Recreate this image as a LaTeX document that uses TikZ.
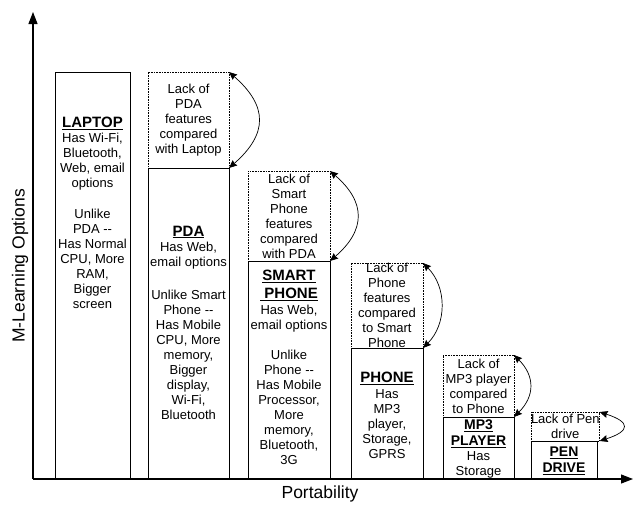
\documentclass[tikz,border=0pt]{standalone}
\usepackage{fontspec}
\setmainfont{Liberation Sans}
\usetikzlibrary{arrows.meta}
\newcommand\mybody{\fontsize{13}{15}\selectfont}
\newcommand\myhead{\fontsize{15}{18}\selectfont\bfseries}
\newcommand\myheads{\fontsize{14}{16}\selectfont\bfseries}
\newcommand\mylab{\fontsize{17.5}{20}\selectfont}
\begin{document}
\begin{tikzpicture}[x=1pt,y=-1pt,
  box/.style={draw, line width=0.9pt, anchor=north west, inner sep=0pt, outer sep=0pt},
  dbox/.style={draw, dash pattern=on 0.8pt off 0.8pt, line width=0.7pt, anchor=north west, inner sep=0pt, outer sep=0pt, align=center, font=\mybody},
  body/.style={anchor=north, inner sep=0pt, align=center, font=\mybody},
  head/.style={anchor=north, inner sep=0pt, align=center, font=\myhead},
  heads/.style={anchor=north, inner sep=0pt, align=center, font=\myheads},
  cmp/.style={{Stealth[length=8pt,width=7pt,inset=1pt]}-{Stealth[length=8pt,width=7pt,inset=1pt]}, line width=0.7pt},
  axis/.style={-{Triangle[length=12pt,width=9pt]}, line width=1.1pt},
]
\useasboundingbox (0,0) rectangle (634,504);

% dotted "lack of" boxes
\node[dbox, minimum width=81pt, minimum height=96pt] (pdaD) at (148,72) {Lack of\\PDA\\features\\compared\\with Laptop};
\node[dbox, minimum width=82pt, minimum height=90pt] (spD) at (248,171) {Lack of\\Smart\\Phone\\features\\compared\\with PDA};
\node[dbox, minimum width=72pt, minimum height=85pt] (phD) at (351,263) {Lack of\\Phone\\features\\compared\\to Smart\\Phone};
\node[dbox, minimum width=71pt, minimum height=62pt] (mpD) at (443,355) {Lack of\\MP3 player\\compared\\to Phone};
\node[dbox, minimum width=66pt, minimum height=29pt] (peD) at (531,412) {Lack of Pen\\drive};

% solid boxes
\node[box, minimum width=75pt, minimum height=407pt] (laptop) at (55,72) {};
\node[box, minimum width=81pt, minimum height=311pt] (pda) at (148,168) {};
\node[box, minimum width=82pt, minimum height=218pt] (sp) at (248,261) {};
\node[box, minimum width=72pt, minimum height=131pt] (ph) at (351,348) {};
\node[box, minimum width=71pt, minimum height=62pt] (mp) at (443,417) {};
\node[box, minimum width=66pt, minimum height=38pt] (pe) at (531,441) {};

% texts
\node[head] (laptopH) at (92.5,116.6) {\underline{LAPTOP}};
\node[body] (laptopT) at (92.5,133.3) {Has Wi-Fi,\\Bluetooth,\\Web, email\\options\\[16pt]Unlike\\PDA -{}-\\Has Normal\\CPU, More\\RAM,\\Bigger\\screen};
\node[head] (pdaH) at (188.5,225.6) {\underline{PDA}};
\node[body] (pdaT) at (188.5,242.3) {Has Web,\\email options\\[18pt]Unlike Smart\\Phone -{}-\\Has Mobile\\CPU, More\\memory,\\Bigger\\display,\\Wi-Fi,\\Bluetooth};
\node[head] (spH) at (289,269.6) {\underline{SMART}\\\underline{\ PHONE}};
\node[body] (spT) at (289,305.3) {Has Web,\\email options\\[15pt]Unlike\\Phone -{}-\\Has Mobile\\Processor,\\More\\memory,\\Bluetooth,\\3G};
\node[head] (phH) at (387,371.6) {\underline{PHONE}};
\node[body] (phT) at (387,389.3) {Has\\MP3\\player,\\Storage,\\GPRS};
\node[heads] (mpH) at (478.5,420) {\underline{MP3}\\\underline{PLAYER}};
\node[body] (mpT) at (478.5,451.3) {Has\\Storage};
\node[heads] (peH) at (564,447) {\underline{PEN}\\\underline{DRIVE}};

% comparison arcs
\draw[cmp] (pdaD.north east) .. controls +(39,34) and +(39,-34) .. (pdaD.south east);
\draw[cmp] (spD.north east) .. controls +(36,31) and +(36,-31) .. (spD.south east);
\draw[cmp] (phD.north east) .. controls +(24,24) and +(24,-24) .. (phD.south east);
\draw[cmp] (mpD.north east) .. controls +(21,21) and +(21,-21) .. (mpD.south east);
\draw[cmp] (peD.north east) .. controls +(31,10) and +(31,-10) .. (peD.south east);

% axes
\coordinate (origin) at (33,479);
\coordinate (ytip) at (33,12);
\coordinate (xtip) at (633,479);
\draw[axis] (origin) -- (ytip);
\draw[axis] (origin) -- (xtip);
\node[font=\mylab, rotate=90, inner sep=0pt] (ylab) at (20,266) {M-Learning Options};
\node[font=\mylab, inner sep=0pt] (xlab) at (320,494) {Portability};
\end{tikzpicture}
\end{document}
